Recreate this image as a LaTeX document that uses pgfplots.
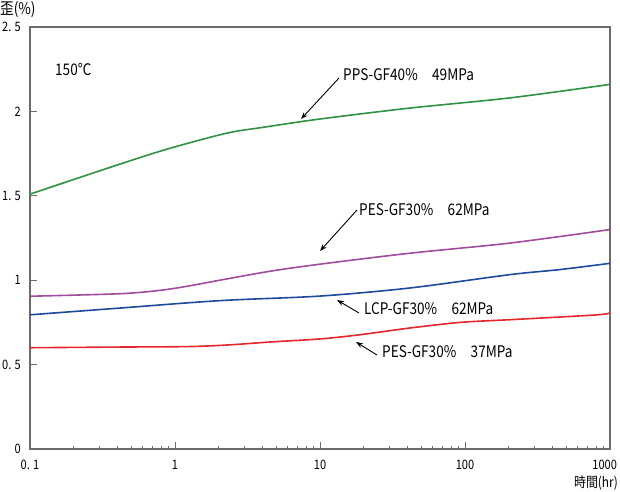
\documentclass[border=0pt]{standalone}
\usepackage{pgfplots}
\pgfplotsset{compat=1.18}
\usepackage{fontspec}
\setmainfont{Noto Sans CJK JP}
\newfontfamily\lab[FakeStretch=0.85]{Noto Sans CJK JP}
\usetikzlibrary{arrows.meta}
\definecolor{cgreen}{HTML}{2F9142}
\definecolor{cpurple}{HTML}{A04C9C}
\definecolor{cblue}{HTML}{1C4B9C}
\definecolor{cred}{HTML}{E6262A}
\definecolor{axgray}{HTML}{6E6A6A}
\begin{document}
\begin{tikzpicture}
\useasboundingbox (0pt,0pt) rectangle (620pt,491pt);
\begin{axis}[
  at={(30pt,42pt)}, anchor=south west,
  scale only axis, width=580pt, height=422pt,
  xmode=log, xmin=0.1, xmax=1000, ymin=0, ymax=2.5,
  xtick={0.1,1,10,100,1000},
  xticklabels={0. 1,1,10,100,{\makebox[0pt][r]{1000\kern-7pt}}},
  ytick={0,0.5,1,1.5,2,2.5},
  yticklabels={0,0. 5,1,1. 5,2,2. 5},
  minor tick num=0, minor xtick={},
  tick align=inside, major tick length=7pt,
  xtick pos=bottom, ytick pos=left,
  tick style={axgray, line width=0.8pt},
  axis line style={axgray, line width=1.2pt},
  every tick label/.append style={font=\lab\fontsize{13}{15}\selectfont},
  yticklabel style={anchor=east, inner sep=0pt, xshift=-9pt},
  xticklabel style={anchor=north, inner sep=0pt, yshift=-11pt},
  clip=false,
]
\addplot[cgreen, line width=1.6pt, smooth, tension=0.5] coordinates {
 (0.1,1.51) (0.5,1.71) (1,1.79) (2.3,1.872) (4,1.905) (10,1.955) (42,2.02) (204,2.08) (1000,2.16)};
\addplot[cpurple, line width=1.6pt, smooth, tension=0.5] coordinates {
 (0.1,0.905) (0.418,0.92) (0.79,0.94) (1.21,0.964) (2.04,1.0) (4.52,1.053) (10,1.095) (41.8,1.16) (204,1.22) (1000,1.30)};
\addplot[cblue, line width=1.6pt, smooth, tension=0.5] coordinates {
 (0.1,0.795) (0.418,0.835) (2.04,0.879) (10,0.906) (41.8,0.954) (204,1.033) (452,1.063) (1000,1.10)};
\addplot[cred, line width=1.6pt, smooth, tension=0.5] coordinates {
 (0.1,0.60) (0.418,0.604) (1.27,0.607) (2.39,0.617) (4.52,0.634) (10,0.652) (18.9,0.677) (41.8,0.717) (92.5,0.75) (204,0.766) (452,0.782) (853,0.796) (1000,0.806)};
\end{axis}
\node[anchor=west, inner sep=0pt, font=\lab\fontsize{16}{18}\selectfont] at (0pt,481pt) {歪(\%)};
\node[anchor=east, inner sep=0pt, font=\lab\fontsize{14}{16}\selectfont] at (618pt,8pt) {時間(hr)};
\begin{scope}[every node/.style={anchor=west, inner sep=0pt, font=\lab\fontsize{16}{18}\selectfont}]
\node at (55pt,421pt) {150℃};
\node at (343pt,416pt) {PPS-GF40\%\hspace{0.9em}49MPa};
\node at (359pt,281pt) {PES-GF30\%\hspace{0.9em}62MPa};
\node at (364pt,182pt) {LCP-GF30\%\hspace{0.9em}62MPa};
\node at (382pt,139pt) {PES-GF30\%\hspace{0.9em}37MPa};
\end{scope}
\begin{scope}[line width=0.9pt, -{Stealth[length=7pt,width=5pt]}]
\draw (339pt,413pt) -- (301pt,372pt);
\draw (357pt,281pt) -- (320pt,240pt);
\draw (359pt,178pt) -- (337pt,191pt);
\draw (377pt,136pt) -- (356pt,149pt);
\end{scope}
\end{tikzpicture}
\end{document}
